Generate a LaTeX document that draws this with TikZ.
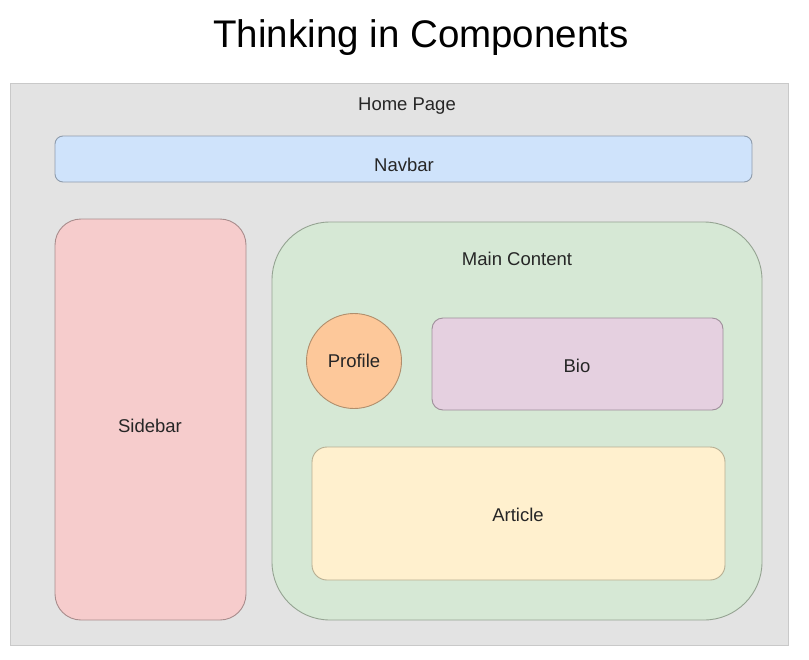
\documentclass[tikz,border=0pt]{standalone}
\usepackage{fontspec}
\setmainfont{Liberation Sans}
\begin{document}
\begin{tikzpicture}[x=1pt,y=-1pt,
  box/.style={draw=#1, line width=0.9pt},
  lbl/.style={font=\fontsize{18.5}{22}\selectfont, text=black!85, inner sep=0pt}]
\definecolor{pagebg}{HTML}{E3E3E3}
\definecolor{pageln}{HTML}{C9C9C9}
\definecolor{navf}{HTML}{CFE3FB}
\definecolor{navl}{HTML}{8E9CAC}
\definecolor{sidef}{HTML}{F6CCCC}
\definecolor{sidel}{HTML}{A88C8C}
\definecolor{mainf}{HTML}{D6E8D5}
\definecolor{mainl}{HTML}{95A392}
\definecolor{proff}{HTML}{FDC89A}
\definecolor{profl}{HTML}{B08E6C}
\definecolor{biof}{HTML}{E5D0E0}
\definecolor{biol}{HTML}{9E8E9A}
\definecolor{artf}{HTML}{FFF0CE}
\definecolor{artl}{HTML}{B7AE92}
\useasboundingbox[fill=white] (0,0) rectangle (809,659);
\node[font=\fontsize{38.5}{46}\selectfont, inner sep=0pt] (title) at (421,38) {Thinking in Components};
\draw[fill=pagebg, draw=pageln, line width=0.9pt] (10,83) rectangle (788,645);
\coordinate (page) at (399,364);
\node[lbl] (home) at (407,106) {Home Page};
\draw[box=navl, fill=navf, rounded corners=8pt] (55,136) rectangle (752,182);
\node[lbl] (nav) at (404,165) {Navbar};
\draw[box=sidel, fill=sidef, rounded corners=26pt] (55,219) rectangle (246,620);
\node[lbl] (side) at (150,426) {Sidebar};
\draw[box=mainl, fill=mainf, rounded corners=58pt] (272,222) rectangle (762,620);
\node[lbl] (main) at (517,259) {Main Content};
\node[circle, draw=profl, line width=0.9pt, fill=proff, minimum size=95pt, inner sep=0pt] (prof) at (354,361) {};
\node[lbl] at (prof) {Profile};
\draw[box=biol, fill=biof, rounded corners=11pt] (432,318) rectangle (723,410);
\node[lbl] (bio) at (577,366) {Bio};
\draw[box=artl, fill=artf, rounded corners=15pt] (312,447) rectangle (725,580);
\node[lbl] (art) at (518,515) {Article};
\end{tikzpicture}
\end{document}
